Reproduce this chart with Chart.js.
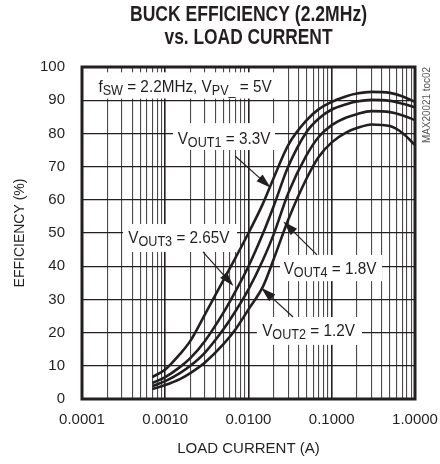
<!DOCTYPE html>
<html lang="en">
<head>
<meta charset="UTF-8" />
<title>Buck efficiency vs load current</title>
<style>
  html, body { margin: 0; padding: 0; background: #fff; }
  .box { width: 440px; height: 464px; }
</style>
</head>
<body>
<div class="box"><canvas id="eff" width="440" height="464"></canvas></div>
<script src="https://cdn.jsdelivr.net/npm/chart.js"></script>
<script>
// load current (A)
const loadCurrent = [0.0007, 0.001, 0.0015, 0.002, 0.003, 0.005, 0.007, 0.01, 0.015, 0.02,
  0.03, 0.05, 0.07, 0.1, 0.15, 0.2, 0.3, 0.5, 0.7, 1.0];
// efficiency (%) per output voltage
const vout1 = [6.6, 8.9, 13.5, 17.5, 25.5, 35.8, 42.6, 50, 59, 66.5, 76.5, 84, 87.3, 89.5, 91.2, 92, 92.5, 92.2, 91.2, 89.5];
const vout3 = [4.8, 6.6, 9.6, 12.3, 17.5, 26, 32.5, 40, 50, 58, 70, 80.5, 84.5, 87.2, 88.8, 89.6, 90.1, 89.8, 89, 87.9];
const vout4 = [3.9, 5.4, 7.8, 10, 14, 21, 26.5, 33, 42, 49.5, 62, 73.5, 79, 82.5, 84.8, 85.8, 86.7, 86.4, 85.5, 84];
const vout2 = [3.0, 4.2, 6.0, 7.8, 11, 16.5, 21, 27, 34, 42, 54, 66.5, 73, 77.3, 80.3, 81.6, 82.7, 82.2, 80.2, 76.5];
const decades = [0.0001, 0.001, 0.01, 0.1, 1];

// callouts in data units: text parts ([text, subscript?]), text centre, white box [x0, x1, y0, y1], arrow [from, to]
const notes = [
  { parts: [['f', 0], ['SW', 1], [' = 2.2MHz, V', 0], ['PV_', 1], [' = 5V', 0]], at: [0.00173, 94.3], box: [0.0001, 0.0208, 90.5, 98.4] },
  { parts: [['V', 0], ['OUT1', 1], [' = 3.3V', 0]], at: [0.00508, 78.6], box: [0.00124, 0.0208, 75, 83.1], arrow: [[0.0069, 73.2], [0.0185, 63.6]] },
  { parts: [['V', 0], ['OUT3', 1], [' = 2.65V', 0]], at: [0.00146, 48.8], box: [0.000311, 0.00728, 44.3, 52.7], arrow: [[0.00284, 44.3], [0.0066, 34]] },
  { parts: [['V', 0], ['OUT4', 1], [' = 1.8V', 0]], at: [0.0953, 39.5], box: [0.0239, 0.402, 35.5, 43.4], arrow: [[0.0665, 43.4], [0.0262, 53.5]] },
  { parts: [['V', 0], ['OUT2', 1], [' = 1.2V', 0]], at: [0.0526, 20.7], box: [0.0126, 0.231, 16.3, 24.7], arrow: [[0.0343, 24.7], [0.0142, 33.5]] }
];

const INK = '#231f20';
const FAMILY = "'Liberation Sans', Arial, Helvetica, sans-serif";
const NARROW = 0.9; // the original uses a condensed face

const isDecade = (v) => Math.abs(Math.log10(v) - Math.round(Math.log10(v))) < 1e-9;
const logTicks = [];
decades.forEach((d, i) => {
  logTicks.push(d);
  if (i < decades.length - 1) for (let m = 2; m <= 9; m++) logTicks.push(d * m);
});

const toPoints = (ys) => loadCurrent.map((x, i) => ({ x: x, y: ys[i] }));

// text drawn squeezed horizontally, centred on (cx, cy)
const drawParts = (ctx, parts, cx, cy, size) => {
  const big = size + 'px ' + FAMILY, small = Math.round(size * 0.8) + 'px ' + FAMILY;
  let w = 0;
  parts.forEach(([t, sub]) => { ctx.font = sub ? small : big; w += ctx.measureText(t).width; });
  ctx.save();
  ctx.translate(cx - (w * NARROW) / 2, cy + size * 0.36);
  ctx.scale(NARROW, 1);
  ctx.textAlign = 'left';
  ctx.textBaseline = 'alphabetic';
  let px = 0;
  parts.forEach(([t, sub]) => {
    ctx.font = sub ? small : big;
    ctx.fillText(t, px, sub ? 3 : 0);
    px += ctx.measureText(t).width;
  });
  ctx.restore();
};

const drawArrow = (ctx, x0, y0, x1, y1) => {
  const a = Math.atan2(y1 - y0, x1 - x0);
  const len = 15, half = 4.5;
  ctx.beginPath();
  ctx.moveTo(x0, y0);
  ctx.lineTo(x1 - Math.cos(a) * len * 0.8, y1 - Math.sin(a) * len * 0.8);
  ctx.lineWidth = 1.2;
  ctx.stroke();
  ctx.beginPath();
  ctx.moveTo(x1, y1);
  ctx.lineTo(x1 - Math.cos(a) * len + Math.sin(a) * half, y1 - Math.sin(a) * len - Math.cos(a) * half);
  ctx.lineTo(x1 - Math.cos(a) * len - Math.sin(a) * half, y1 - Math.sin(a) * len + Math.cos(a) * half);
  ctx.closePath();
  ctx.fill();
};

const notePlugin = {
  id: 'notes',
  beforeDatasetsDraw(chart) {
    const { ctx, scales: { x, y } } = chart;
    ctx.save();
    ctx.fillStyle = '#fff';
    notes.forEach((n) => {
      const l = x.getPixelForValue(n.box[0]), r = x.getPixelForValue(n.box[1]);
      const t = y.getPixelForValue(n.box[3]), b = y.getPixelForValue(n.box[2]);
      ctx.fillRect(l, t, r - l, b - t);
    });
    ctx.restore();
  },
  afterDraw(chart) {
    const { ctx, chartArea: a, scales: { x, y } } = chart;
    ctx.save();
    ctx.strokeStyle = INK;
    ctx.fillStyle = INK;
    ctx.lineWidth = 3;
    ctx.strokeRect(a.left, a.top, a.right - a.left, a.bottom - a.top);

    notes.forEach((n) => {
      drawParts(ctx, n.parts, x.getPixelForValue(n.at[0]), y.getPixelForValue(n.at[1]), 17);
      if (n.arrow) {
        const [p0, p1] = n.arrow;
        drawArrow(ctx, x.getPixelForValue(p0[0]), y.getPixelForValue(p0[1]),
          x.getPixelForValue(p1[0]), y.getPixelForValue(p1[1]));
      }
    });

    // title
    const cx = (a.left + a.right) / 2;
    ctx.font = 'bold 22px ' + FAMILY;
    ctx.textAlign = 'center';
    ctx.textBaseline = 'middle';
    ctx.fillText('BUCK EFFICIENCY (2.2MHz)', cx, a.top - 52, 237);
    ctx.fillText('vs. LOAD CURRENT', cx, a.top - 29, 168);

    // figure tag
    ctx.translate(a.right + 12, a.top);
    ctx.rotate(-Math.PI / 2);
    ctx.font = '11px ' + FAMILY;
    ctx.fillStyle = '#555';
    ctx.textAlign = 'right';
    ctx.fillText('MAX20021 toc02', 0, 0, 76);
    ctx.restore();
  }
};

const curve = (label, ys) => ({ label: label, data: toPoints(ys), borderColor: INK, borderWidth: 2.6,
  pointRadius: 0, cubicInterpolationMode: 'monotone', fill: false });

new Chart(document.getElementById('eff'), {
  type: 'line',
  data: {
    datasets: [
      curve('VOUT1 = 3.3V', vout1),
      curve('VOUT3 = 2.65V', vout3),
      curve('VOUT4 = 1.8V', vout4),
      curve('VOUT2 = 1.2V', vout2)
    ]
  },
  options: {
    responsive: false,
    animation: false,
    layout: { padding: { top: 67, right: 25, left: 0, bottom: 0 } },
    plugins: { legend: { display: false }, tooltip: { enabled: false } },
    scales: {
      x: {
        type: 'logarithmic',
        min: 0.0001,
        max: 1,
        afterBuildTicks: (s) => { s.ticks = logTicks.map((v) => ({ value: v })); },
        afterFit: (s) => { s.height = 65; s.paddingLeft = 0; s.paddingRight = 0; },
        ticks: {
          autoSkip: false, maxRotation: 0, padding: 12, color: INK,
          font: { family: FAMILY, size: 15 },
          callback: (v) => (isDecade(v) ? Number(v).toFixed(4) : '')
        },
        grid: {
          drawTicks: false,
          color: (c) => (c.tick && isDecade(c.tick.value) ? INK : '#4a4a4a'),
          lineWidth: (c) => (c.tick && isDecade(c.tick.value) ? 1.6 : 1.1)
        },
        border: { display: false },
        title: { display: true, text: 'LOAD CURRENT (A)', color: INK,
          font: { family: FAMILY, size: 15 }, padding: { top: 0, bottom: 6 } }
      },
      y: {
        min: 0,
        max: 100,
        afterFit: (s) => { s.width = 82; s.paddingTop = 0; s.paddingBottom = 0; },
        ticks: { stepSize: 10, padding: 17, color: INK, font: { family: FAMILY, size: 15 } },
        grid: { drawTicks: false, color: INK, lineWidth: 1.3 },
        border: { display: false },
        title: { display: true, text: 'EFFICIENCY (%)', color: INK,
          font: { family: FAMILY, size: 14 }, padding: { top: 12, bottom: 0 } }
      }
    }
  },
  plugins: [notePlugin]
});
</script>
</body>
</html>
